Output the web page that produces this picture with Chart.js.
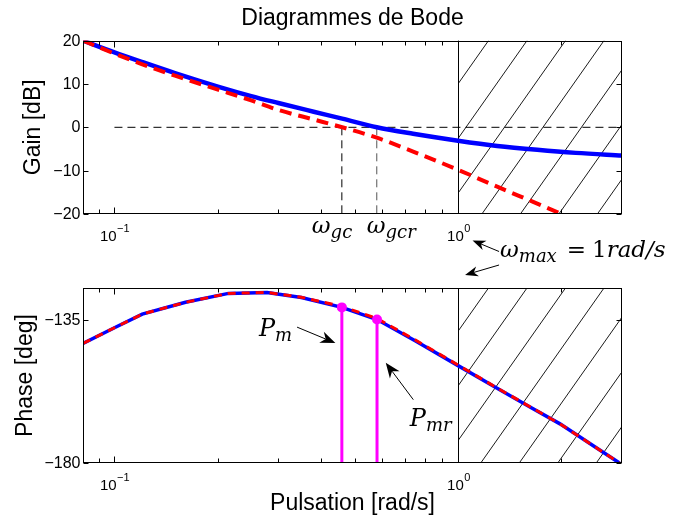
<!DOCTYPE html>
<html lang="fr">
<head>
<meta charset="utf-8">
<title>Diagrammes de Bode</title>
<script src="https://cdn.jsdelivr.net/npm/chart.js@4.4.1/dist/chart.umd.min.js"></script>
<style>
  body { margin: 0; background: #fff; }
  #wrap { position: relative; width: 675px; height: 519px; }
  #gainChart { position: absolute; left: 0; top: 0; }
  #phaseChart { position: absolute; left: 0; top: 260px; }
</style>
</head>
<body>
<div id="wrap">
  <canvas id="gainChart" width="675" height="290"></canvas>
  <canvas id="phaseChart" width="675" height="259"></canvas>
</div>
<script>
// gain diagram (rad/s, dB)
const gainW    = [0.081, 0.1, 0.12, 0.15, 0.2, 0.25, 0.3, 0.38, 0.46, 0.58, 0.74, 1.0, 1.3, 1.7, 2.2, 3.0];
const gainBlue = [20.0, 17.3, 15.1, 12.5, 9.4, 7.2, 5.6, 3.6, 2.0, 0.0, -1.5, -3.1, -4.3, -5.2, -5.9, -6.5];
const gainRedW = [0.081, 0.1, 0.12, 0.15, 0.2, 0.25, 0.3, 0.38, 0.46, 0.58, 0.74, 1.0, 1.3, 1.7, 2.2];
const gainRed  = [20.0, 17.0, 14.6, 11.9, 8.7, 6.2, 4.0, 1.8, 0.0, -2.4, -5.6, -9.8, -13.7, -17.6, -21.4];

// phase diagram (rad/s, deg)
const phaseW    = [0.081, 0.1, 0.1205, 0.161, 0.2146, 0.278, 0.35, 0.459, 0.581, 0.75, 1.0, 1.284, 1.6, 1.98, 2.5, 2.95];
const phaseBlue = [-142.4, -137.5, -133.2, -129.5, -126.7, -126.4, -128.0, -131.1, -134.9, -141.6, -149.4, -156.2, -162.1, -167.7, -174.9, -180.0];
const phaseRed  = [-142.4, -137.5, -133.2, -129.5, -126.7, -126.4, -127.9, -130.8, -134.6, -141.3, -149.2, -156.1, -162.0, -167.7, -174.9, -180.0];

// crossover pulsations w_gc, w_gcr and the phase margins read on them
const crossW      = [0.459, 0.58];
const marginW     = [0.459, 0.581];
const marginPhase = [-131.1, -134.9];
const wMax = 1;
const zeroLineW = [0.1, 3];

// axes
const wRange     = [0.081, 3];
const gainRange  = [-20, 20];
const phaseRange = [-180, -125];
const gainTicks  = [-20, -10, 0, 10, 20];
const phaseTicks = [-180, -135];
const decadeTicks  = [0.1, 1];
const decadeLabels = ['\u22121', '0'];
const minorTicks = [0.09, 0.2, 0.3, 0.4, 0.5, 0.6, 0.7, 0.8, 0.9, 2];

const SANS = '"Liberation Sans", Arial, sans-serif';
const SERIF = '"DejaVu Serif", serif';
Chart.defaults.font.family = SANS;
Chart.defaults.color = '#000';

const toXY = (xs, ys) => xs.map((x, i) => ({ x: x, y: ys[i] }));
const fmt = v => (v < 0 ? '\u2212' + Math.abs(v) : String(v));

function mathText(ctx, parts, x, y) {
    // parts: [text, size, dy, italic, gapAfter]
    let cx = x;
    parts.forEach(p => {
        ctx.font = (p[3] ? 'italic ' : '') + p[1] + 'px ' + SERIF;
        ctx.fillText(p[0], cx, y + p[2]);
        cx += ctx.measureText(p[0]).width + (p[4] || 0);
    });
}

function arrow(ctx, x1, y1, x2, y2, L, W) {
    const ang = Math.atan2(y2 - y1, x2 - x1);
    const c = Math.cos(ang), s = Math.sin(ang);
    ctx.lineWidth = 1;
    ctx.beginPath();
    ctx.moveTo(x1, y1);
    ctx.lineTo(x2 - c * L * 0.7, y2 - s * L * 0.7);
    ctx.stroke();
    ctx.beginPath();
    ctx.moveTo(x2, y2);
    ctx.lineTo(x2 - L * c + W * s, y2 - L * s - W * c);
    ctx.lineTo(x2 - 0.7 * L * c, y2 - 0.7 * L * s);
    ctx.lineTo(x2 - L * c - W * s, y2 - L * s + W * c);
    ctx.closePath();
    ctx.fill();
}

// matlab-like box: inward ticks, tick labels, axis titles
const matlabAxes = {
    id: 'matlabAxes',
    afterDraw(chart, args, opts) {
        const { ctx, chartArea: a, scales: { x, y } } = chart;
        ctx.save();
        ctx.strokeStyle = '#000';
        ctx.fillStyle = '#000';
        ctx.lineWidth = 1;
        const seg = (x1, y1, x2, y2) => {
            ctx.beginPath(); ctx.moveTo(x1, y1); ctx.lineTo(x2, y2); ctx.stroke();
        };
        const L = Math.round(a.left) + 0.5, R = Math.round(a.right) - 0.5;
        const T = Math.round(a.top) + 0.5, B = Math.round(a.bottom) - 0.5;
        ctx.strokeRect(L, T, R - L, B - T);

        ctx.font = '16px ' + SANS;
        ctx.textAlign = 'right';
        ctx.textBaseline = 'middle';
        opts.yTicks.forEach(v => {
            const py = Math.round(y.getPixelForValue(v)) + 0.5;
            seg(L, py, L + 5, py);
            seg(R, py, R - 5, py);
            ctx.fillText(fmt(v), L - 3, py);
        });

        minorTicks.forEach(v => {
            const px = Math.round(x.getPixelForValue(v)) + 0.5;
            seg(px, B, px, B - 4);
            seg(px, T, px, T + 4);
        });
        ctx.textAlign = 'left';
        ctx.textBaseline = 'alphabetic';
        decadeTicks.forEach((v, i) => {
            const px = Math.round(x.getPixelForValue(v)) + 0.5;
            seg(px, B, px, B - 6);
            seg(px, T, px, T + 6);
            ctx.font = '15px ' + SANS;
            const w1 = ctx.measureText('10').width;
            ctx.font = '11px ' + SANS;
            const w2 = ctx.measureText(decadeLabels[i]).width;
            const x0 = px - (w1 + w2) / 2;
            ctx.font = '15px ' + SANS;
            ctx.fillText('10', x0, a.bottom + 27);
            ctx.font = '11px ' + SANS;
            ctx.fillText(decadeLabels[i], x0 + w1 + 0.5, a.bottom + 18);
        });

        ctx.font = '23px ' + SANS;
        ctx.textAlign = 'center';
        ctx.textBaseline = 'middle';
        ctx.save();
        ctx.translate(opts.yTitleX, (a.top + a.bottom) / 2);
        ctx.rotate(-Math.PI / 2);
        ctx.fillText(opts.yTitle, 0, 0);
        ctx.restore();
        if (opts.xTitle) {
            ctx.fillText(opts.xTitle, (a.left + a.right) / 2, a.bottom + 41);
        }
        ctx.restore();
    }
};

// hatched zone beyond w_max
const hatch = {
    id: 'hatch',
    beforeDatasetsDraw(chart) {
        const { ctx, chartArea: a, scales: { x } } = chart;
        const x0 = Math.round(x.getPixelForValue(wMax)) + 0.5;
        const h = a.bottom - a.top;
        const slope = 1.42, gap = 38.5, offset = 30;
        ctx.save();
        ctx.beginPath();
        ctx.rect(x0, a.top, a.right - x0, h);
        ctx.clip();
        ctx.strokeStyle = '#000';
        ctx.lineWidth = 0.9;
        for (let k = -6; k < 12; k++) {
            const xt = x0 + offset + k * gap;
            ctx.beginPath();
            ctx.moveTo(xt, a.top);
            ctx.lineTo(xt - h / slope, a.bottom);
            ctx.stroke();
        }
        ctx.restore();
        ctx.save();
        ctx.strokeStyle = '#000';
        ctx.lineWidth = 1;
        ctx.beginPath();
        ctx.moveTo(x0, a.top);
        ctx.lineTo(x0, a.bottom);
        ctx.stroke();
        ctx.restore();
    }
};

const gainNotes = {
    id: 'gainNotes',
    afterDraw(chart) {
        const { ctx, chartArea: a, scales: { x } } = chart;
        ctx.save();
        ctx.fillStyle = '#000';
        ctx.strokeStyle = '#000';
        ctx.textAlign = 'left';
        ctx.textBaseline = 'alphabetic';
        const base = a.bottom + 19;
        mathText(ctx, [['\u03c9', 23, 0, true], ['gc', 18, 5, true]], x.getPixelForValue(crossW[0]) - 30, base);
        mathText(ctx, [['\u03c9', 23, 0, true], ['gcr', 18, 5, true]], x.getPixelForValue(crossW[1]) - 10, base);
        const xm = x.getPixelForValue(wMax);
        mathText(ctx, [['\u03c9', 23, 0, true], ['max', 18, 5, true, 10], ['=', 23, 0, false, 6],
                       ['1', 23, 0, false], ['rad/s', 23, 0, true]], xm + 42, a.bottom + 43);
        arrow(ctx, xm + 41, a.bottom + 37.5, xm + 14.5, a.bottom + 26.5, 13, 5);
        arrow(ctx, xm + 41, a.bottom + 51, xm + 7, a.bottom + 61, 13, 5);
        ctx.restore();
    }
};

const phaseNotes = {
    id: 'phaseNotes',
    afterDraw(chart) {
        const { ctx, scales: { x, y } } = chart;
        const P = (w, p) => [x.getPixelForValue(w), y.getPixelForValue(p)];
        ctx.save();
        ctx.fillStyle = '#000';
        ctx.strokeStyle = '#000';
        ctx.textAlign = 'left';
        ctx.textBaseline = 'alphabetic';
        let p = P(0.2634, -140.0);
        mathText(ctx, [['P', 24, 0, true], ['m', 18, 5, true]], p[0], p[1]);
        p = P(0.724, -168.4);
        mathText(ctx, [['P', 24, 0, true], ['mr', 18, 5, true]], p[0], p[1]);
        arrow(ctx, ...P(0.34, -137.3), ...P(0.4395, -142.3), 15, 6);
        arrow(ctx, ...P(0.741, -160.1), ...P(0.616, -148.5), 15, 6);
        ctx.restore();
    }
};

const baseOptions = (padding, yRange) => ({
    responsive: false,
    animation: false,
    layout: { padding: padding },
    plugins: { legend: { display: false }, tooltip: { enabled: false } },
    elements: { point: { radius: 0 } },
    scales: {
        x: { type: 'logarithmic', min: wRange[0], max: wRange[1], display: false },
        y: { min: yRange[0], max: yRange[1], display: false }
    }
});

// ---- gain ----
const gainOptions = baseOptions({ left: 83, right: 53, top: 0, bottom: 76 }, gainRange);
gainOptions.plugins.title = {
    display: true,
    text: 'Diagrammes de Bode',
    fullSize: false,
    color: '#000',
    font: { size: 23, weight: 'normal', family: SANS },
    padding: { top: 5, bottom: 8 }
};
gainOptions.plugins.matlabAxes = { yTicks: gainTicks, yTitle: 'Gain [dB]', yTitleX: 34 };

new Chart(document.getElementById('gainChart'), {
    type: 'line',
    data: {
        datasets: [
            { data: toXY(gainRedW, gainRed), borderColor: '#ff0000', borderWidth: 4, borderDash: [12, 7],
              cubicInterpolationMode: 'monotone', clip: 0 },
            { data: toXY(gainW, gainBlue), borderColor: '#0000ff', borderWidth: 4.5,
              cubicInterpolationMode: 'monotone' },
            { data: toXY(zeroLineW, [0, 0]), borderColor: '#000', borderWidth: 1, borderDash: [8, 5] },
            { data: toXY([crossW[0], crossW[0]], [0, gainRange[0]]), borderColor: '#000', borderWidth: 1, borderDash: [8, 5] },
            { data: toXY([crossW[1], crossW[1]], [0, gainRange[0]]), borderColor: '#555', borderWidth: 1, borderDash: [8, 5] }
        ]
    },
    options: gainOptions,
    plugins: [hatch, matlabAxes, gainNotes]
});

// ---- phase ----
const phaseOptions = baseOptions({ left: 83, right: 53, top: 28, bottom: 56 }, phaseRange);
phaseOptions.plugins.matlabAxes = { yTicks: phaseTicks, yTitle: 'Phase [deg]', yTitleX: 26, xTitle: 'Pulsation [rad/s]' };

const marginLine = i => ({
    data: toXY([marginW[i], marginW[i]], [phaseRange[0], marginPhase[i]]),
    borderColor: '#ff00ff', borderWidth: 3,
    pointRadius: [0, 5], pointBackgroundColor: '#ff00ff', pointBorderWidth: 0
});

new Chart(document.getElementById('phaseChart'), {
    type: 'line',
    data: {
        datasets: [
            marginLine(0),
            marginLine(1),
            { data: toXY(phaseW, phaseRed), borderColor: '#ff0000', borderWidth: 3, borderDash: [8, 6] },
            { data: toXY(phaseW, phaseBlue), borderColor: '#0000ff', borderWidth: 3.5 }
        ]
    },
    options: phaseOptions,
    plugins: [hatch, matlabAxes, phaseNotes]
});
</script>
</body>
</html>
